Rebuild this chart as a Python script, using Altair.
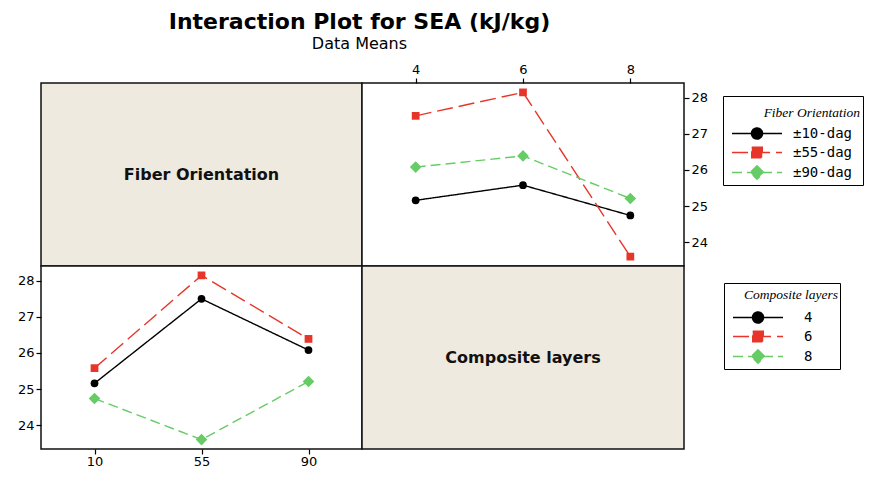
import altair as alt
import pandas as pd

# ---------------- data ----------------
fiber_levels = ["10", "55", "90"]
fiber_names = ["±10-dag", "±55-dag", "±90-dag"]
layer_levels = ["4", "6", "8"]
# mean SEA (kJ/kg) for 4, 6 and 8 composite layers, one list per fiber orientation
sea_fiber_10 = [25.16, 25.58, 24.74]
sea_fiber_55 = [27.50, 28.15, 23.60]
sea_fiber_90 = [26.08, 26.39, 25.21]
y_ticks = [24, 25, 26, 27, 28]
panel_labels = ["Fiber Orientation", "Composite layers"]

rows = []
for f, fname, vals in zip(fiber_levels, fiber_names, [sea_fiber_10, sea_fiber_55, sea_fiber_90]):
    for lay, v in zip(layer_levels, vals):
        rows.append({"fiber": f, "fiber_name": fname, "layers": lay, "sea": v})
df = pd.DataFrame(rows)

# ---------------- styles ----------------
COLORS = ["#000000", "#E8352A", "#66CC66"]
DASHES = [[1, 0], [16, 6], [10, 5]]
MARKERS = ["circle", "square", "M-1.5,0L0,-1.5L1.5,0L0,1.5Z"]
# legend keys: a short line with the marker in its middle (unit = 5 px)
LEG_SHAPES = [
    "M0,0L10,0M3.9,0A1.1,1.1,0,1,1,6.1,0A1.1,1.1,0,1,1,3.9,0Z",
    "M0,0L10,0M3.95,-1.05L6.05,-1.05L6.05,1.05L3.95,1.05Z",
    "M0,0L10,0M5,-1.35L6.35,0L5,1.35L3.65,0Z",
]
BEIGE = "#EFEAE0"
W1, W2, H = 321, 322, 183
FONT = "DejaVu Sans"
NBSP, ZWSP = "\u00a0", "\u200b"
yscale = alt.Scale(domain=[23.34, 28.41], nice=False, zero=False)


def axis(orient, values=None, pad=2):
    kw = dict(orient=orient, title=None, domain=False, grid=False, ticks=True, tickSize=5,
              tickColor="black", tickWidth=1.2, labelAngle=0, labelFont=FONT, labelFontSize=13,
              labelColor="black", labelPadding=pad)
    if values is not None:
        kw["values"] = values
    return alt.Axis(**kw)


def make_legend(title, lx, ly, label_offset, n_pad, line_h, title_pad):
    return alt.Legend(
        title=title, orient="none", legendX=lx, legendY=ly, direction="vertical",
        titleFont="Liberation Serif", titleFontStyle="italic", titleFontWeight="normal",
        titleFontSize=13.5, titleColor="black", titleAnchor="end",
        titleBaseline="line-top", titleLineHeight=line_h, titlePadding=title_pad,
        labelFont="DejaVu Sans Mono", labelFontSize=14, labelColor="black",
        labelOffset=label_offset,
        labelExpr="datum.label + '" + NBSP * n_pad + ZWSP + "'",
        symbolSize=100, symbolStrokeWidth=1.5, symbolOpacity=1, rowPadding=1,
        strokeColor="black", padding=2, fillColor="white",
    )


def interaction_panel(x_field, x_domain, s_field, s_domain, x_orient, y_orient, legend, width):
    base = alt.Chart(df).encode(
        x=alt.X(f"{x_field}:O", scale=alt.Scale(type="point", domain=x_domain, padding=0.5),
                axis=axis(x_orient, pad=1 if x_orient == "bottom" else 2)),
        y=alt.Y("sea:Q", scale=yscale, axis=axis(y_orient, y_ticks)),
    )
    color = alt.Color(f"{s_field}:N", scale=alt.Scale(domain=s_domain, range=COLORS), legend=None)
    lines = base.mark_line(strokeWidth=1.4).encode(
        color=color,
        strokeDash=alt.StrokeDash(f"{s_field}:N", scale=alt.Scale(domain=s_domain, range=DASHES),
                                  legend=None),
    )
    pts = base.mark_point(filled=True, opacity=1, size=60).encode(
        color=color,
        shape=alt.Shape(f"{s_field}:N", scale=alt.Scale(domain=s_domain, range=MARKERS), legend=None),
    )
    key = base.mark_point(filled=True, size=0, strokeWidth=1.5).encode(
        fill=alt.Fill(f"{s_field}:N", scale=alt.Scale(domain=s_domain, range=COLORS), legend=legend),
        stroke=alt.Stroke(f"{s_field}:N", scale=alt.Scale(domain=s_domain, range=COLORS), legend=legend),
        shape=alt.Shape(f"{s_field}:N", scale=alt.Scale(domain=s_domain, range=LEG_SHAPES), legend=legend),
        strokeDash=alt.StrokeDash(f"{s_field}:N", scale=alt.Scale(domain=s_domain, range=DASHES),
                                  legend=legend),
    )
    return alt.layer(lines, pts, key).resolve_scale(
        color="independent", fill="independent", stroke="independent",
        shape="independent", strokeDash="independent",
    ).properties(width=width, height=H,
                 view=alt.ViewBackground(fill="white", stroke="#111111", strokeWidth=1.5))


def label_panel(text, width):
    return alt.Chart(pd.DataFrame({"label": [text]})).mark_text(
        font=FONT, fontSize=16, fontWeight="bold", color="#111111"
    ).encode(
        text="label:N", x=alt.value(width / 2), y=alt.value(H / 2)
    ).properties(width=width, height=H,
                 view=alt.ViewBackground(fill=BEIGE, stroke="#111111", strokeWidth=1.5))


legend_fiber = make_legend("Fiber Orientation", W1 + 40, 13, 54, 1, 29.6, 15)
legend_layers = make_legend("Composite layers", W1 + W2 + 40, 17, 64, 3, 19.6, 12)

tl = label_panel(panel_labels[0], W1)
tr = interaction_panel("layers", layer_levels, "fiber_name", fiber_names, "top", "right",
                       legend_fiber, W2)
bl = interaction_panel("fiber", fiber_levels, "layers", layer_levels, "bottom", "left",
                       legend_layers, W1)
br = label_panel(panel_labels[1], W2)

res = dict(color="independent", fill="independent", stroke="independent",
           shape="independent", strokeDash="independent")

chart = alt.concat(tl, tr, bl, br, columns=2, spacing=0, bounds="flush").resolve_scale(**res).properties(
    title=alt.Title("Interaction Plot for SEA (kJ/kg)", subtitle="Data Means", font=FONT,
                    fontSize=22, fontWeight="bold", color="black", subtitleFont=FONT,
                    subtitleFontSize=16, subtitleColor="black", anchor="middle", frame="bounds",
                    offset=9, subtitlePadding=2, dx=-81),
    padding={"left": 8, "top": 3, "right": 0, "bottom": 0},
    background="white",
)

chart.save("out.html", embed_options={"renderer": "svg", "actions": False})
